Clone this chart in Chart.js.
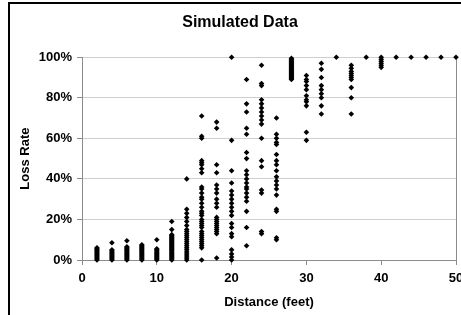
<!DOCTYPE html>
<html>
<head>
<meta charset="utf-8">
<script src="https://cdn.jsdelivr.net/npm/chart.js@4.4.0/dist/chart.umd.min.js"></script>
<style>
  html, body { margin: 0; padding: 0; background: #fff; overflow: hidden; }
  #wrap { position: relative; width: 461px; height: 315px; overflow: hidden; }
  #frame { position: absolute; left: 8px; top: 2px; width: 480px; height: 330px; border-left: 2px solid #000; border-top: 2px solid #000; }
  canvas { position: absolute; left: 0; top: 0; }
</style>
</head>
<body>
<div id="wrap">
  <canvas id="lossChart" width="480" height="315"></canvas>
  <div id="frame"></div>
</div>
<script>
// distance in feet, one column of simulated loss rates (%) per distance
const distances = [2, 4, 6, 8, 10, 12, 14, 16, 18, 20, 22, 24, 26, 28, 30, 32, 34, 36, 38, 40, 42, 44, 46, 48, 50];
const lossRates = [
  [0, 0.5, 1, 1.5, 2, 2.5, 3, 3.5, 4, 4.5, 5, 5.5, 6],
  [0, 0.5, 1, 1.5, 2, 2.5, 3, 3.5, 4, 4.5, 5, 8.5],
  [0, 0.5, 1, 1.5, 2, 2.5, 3, 3.5, 4, 4.5, 5, 5.5, 6, 6.5, 9.5],
  [0, 0.5, 1, 1.5, 2, 2.5, 3, 3.5, 4, 4.5, 5, 5.5, 6, 6.5, 7, 7.5],
  [0, 0.5, 1, 1.5, 2, 2.5, 3, 3.5, 4, 4.5, 5, 5.5, 10],
  [0, 0.5, 1, 1.5, 2, 2.5, 3, 3.5, 4, 4.5, 5, 5.5, 6, 6.5, 7, 7.5, 8, 8.5, 9, 9.5, 10, 10.5, 11, 11.5, 12, 12.5, 15, 19],
  [0, 1, 2, 3, 4, 5, 6, 7, 8, 9, 10, 11, 12, 13, 14, 15, 17, 19, 21, 23, 25, 40],
  [0, 6, 7, 8, 9, 10, 11, 12, 13, 14, 16, 17, 18, 19, 20, 22, 23, 24, 26, 28, 30, 31, 33, 35, 36, 43, 45, 47, 48, 49, 60, 61, 71],
  [1, 13, 14, 15, 16, 17, 18, 19, 20, 21, 26, 28, 30, 33, 35, 37, 43, 47, 65, 68],
  [0, 1.5, 3, 5, 11.5, 13, 16, 18, 22, 24, 26, 28, 30, 32, 34, 38, 44, 59, 100],
  [7, 16, 24, 29, 31, 33, 35, 36, 38, 40, 42, 44, 50, 53, 62, 65, 73, 77, 89],
  [13, 14, 33, 34.5, 46, 49, 60, 67, 69, 71, 73, 75, 77, 79, 86, 87, 96],
  [10, 11, 24, 25, 32, 35, 37, 39, 41, 44, 47, 49, 52, 57, 58, 60, 62, 70],
  [89, 89.5, 90, 90.5, 91, 91.5, 92, 92.5, 93, 93.5, 94, 94.5, 95, 95.5, 96, 96.5, 97, 97.5, 98, 98.5, 99, 99.5],
  [59, 63, 76, 78, 79, 81, 84, 86, 88, 89, 91],
  [72, 76, 80, 82, 84, 86, 90, 94, 97],
  [100],
  [72, 80, 85, 89, 90, 91, 92, 93, 94.5, 96],
  [100],
  [95, 96, 97, 98, 99, 100],
  [100],
  [100],
  [100],
  [100],
  [100]
];
const xTicks = [0, 10, 20, 30, 40, 50];
const yTicks = [0, 20, 40, 60, 80, 100];

const points = [];
distances.forEach((d, i) => {
  lossRates[i].forEach(v => points.push({ x: d, y: v }));
});

const fontFamily = "'Liberation Sans', Arial, sans-serif";
const axisFont = { family: fontFamily, size: 13, weight: 'bold' };

const ctx = document.getElementById("lossChart").getContext("2d");
new Chart(ctx, {
  type: "scatter",
  data: {
    datasets: [{
      data: points,
      pointStyle: "rectRot",
      pointRadius: 2.8,
      pointHoverRadius: 2.8,
      backgroundColor: "#000",
      borderColor: "#000",
      borderWidth: 0,
      clip: false
    }]
  },
  options: {
    responsive: false,
    animation: false,
    events: [],
    layout: { padding: 0 },
    plugins: {
      legend: { display: false },
      tooltip: { enabled: false },
      title: {
        display: true,
        text: "Simulated Data",
        color: "#000",
        font: { family: fontFamily, size: 16, weight: "bold" },
        padding: { top: 13, bottom: 25 }
      }
    },
    scales: {
      x: {
        type: "linear",
        min: xTicks[0],
        max: xTicks[xTicks.length - 1],
        afterBuildTicks: s => { s.ticks = xTicks.map(v => ({ value: v })); },
        ticks: { color: "#000", font: axisFont, padding: 6, maxRotation: 0 },
        grid: {
          color: c => (c.tick && c.tick.value === 50 ? "#8c8c8c" : "rgba(0,0,0,0)"),
          tickColor: "#8c8c8c",
          tickLength: 5
        },
        border: { color: "#8c8c8c" },
        title: {
          display: true,
          text: "Distance (feet)",
          color: "#000",
          font: axisFont,
          padding: { top: 4, bottom: 5 }
        },
        afterFit: s => { s.height = 55; s.paddingRight = 24; s.paddingLeft = 0; }
      },
      y: {
        min: yTicks[0],
        max: yTicks[yTicks.length - 1],
        afterBuildTicks: s => { s.ticks = yTicks.map(v => ({ value: v })); },
        ticks: { color: "#000", font: axisFont, padding: 5, callback: v => v + "%" },
        grid: { color: "#cfcfcf", tickColor: "#8c8c8c", tickLength: 5 },
        border: { color: "#8c8c8c" },
        title: {
          display: true,
          text: "Loss Rate",
          color: "#000",
          font: axisFont,
          padding: { top: 18, bottom: 4 }
        },
        afterFit: s => { s.width = 82; }
      }
    }
  }
});
</script>
</body>
</html>
